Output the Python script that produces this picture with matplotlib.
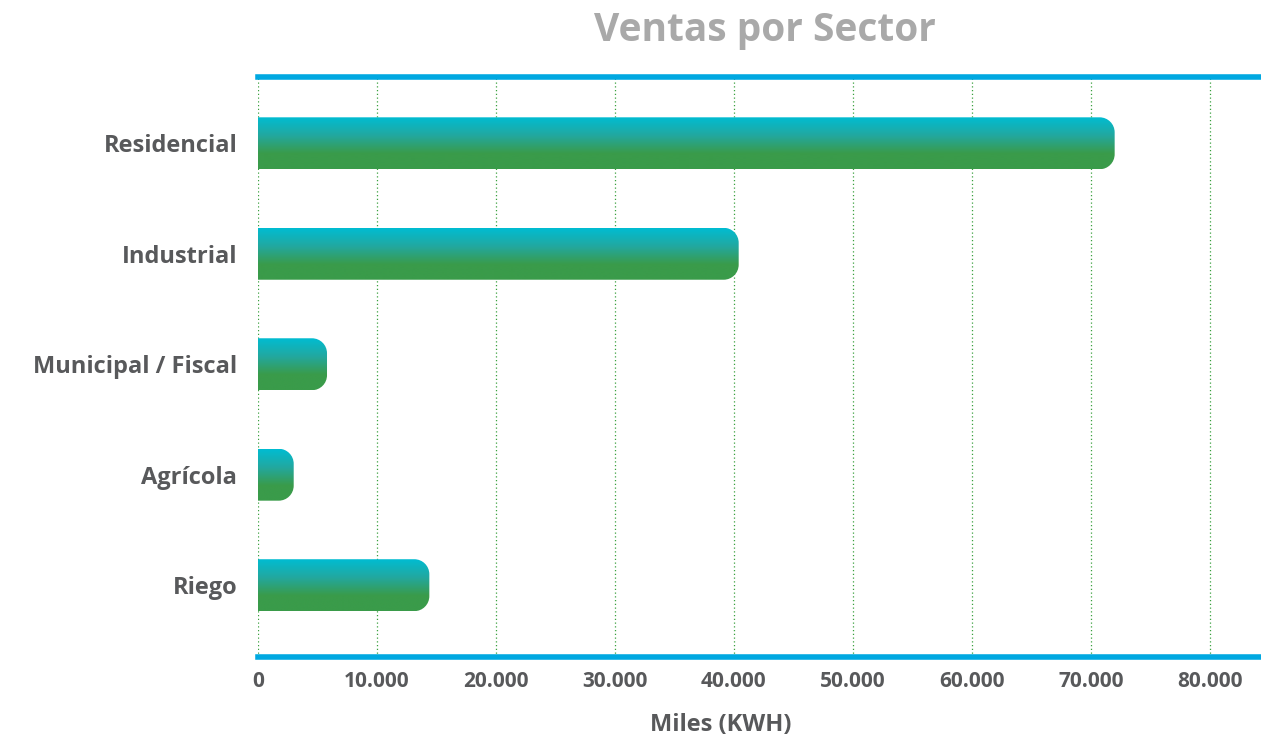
import numpy as np
import matplotlib
matplotlib.use("Agg")
import matplotlib.pyplot as plt
from matplotlib.path import Path
from matplotlib.patches import PathPatch
from matplotlib.colors import LinearSegmentedColormap

categories = ["Residencial", "Industrial", "Municipal / Fiscal", "Agrícola", "Riego"]
values = [72000, 40400, 5800, 3000, 14400]
xticks = [0, 10000, 20000, 30000, 40000, 50000, 60000, 70000, 80000]
xticklabels = ["0", "10.000", "20.000", "30.000", "40.000", "50.000", "60.000", "70.000", "80.000"]

W, H = 1261, 739
fig = plt.figure(figsize=(W / 100, H / 100), dpi=100)
ax = fig.add_axes([258 / W, 1 - 657 / H, (1261 - 258) / W, (657 - 77) / H])

xmin, xmax = 0, 84300
ymin, ymax = 4.65, -0.6
ax.set_xlim(xmin, xmax)
ax.set_ylim(ymin, ymax)

font = "Open Sans"
gray = "#58595b"

# pixel scales
ax_w_px = 1261 - 258
ax_h_px = 657 - 77
px_per_x = ax_w_px / (xmax - xmin)
px_per_y = ax_h_px / abs(ymin - ymax)

bar_h = 0.47
r_px = 15
rx = r_px / px_per_x
ry = r_px / px_per_y
k = 0.5523

cmap = LinearSegmentedColormap.from_list(
    "g", [(0.0, "#00bcd2"), (0.35, "#22a8a0"), (0.7, "#3a9b4a"), (1.0, "#3a9b4a")])
grad = np.linspace(0, 1, 256).reshape(-1, 1)

for i, v in enumerate(values):
    top = i - bar_h / 2
    bot = i + bar_h / 2
    x0 = 0
    x1 = v
    rxx = min(rx, v / 2)
    verts = [
        (x0, top),
        (x1 - rxx, top),
        (x1 - rxx + k * rxx, top), (x1, top + ry - k * ry), (x1, top + ry),
        (x1, bot - ry),
        (x1, bot - ry + k * ry), (x1 - rxx + k * rxx, bot), (x1 - rxx, bot),
        (x0, bot),
        (x0, top),
    ]
    codes = [Path.MOVETO, Path.LINETO,
             Path.CURVE4, Path.CURVE4, Path.CURVE4,
             Path.LINETO,
             Path.CURVE4, Path.CURVE4, Path.CURVE4,
             Path.LINETO, Path.CLOSEPOLY]
    path = Path(verts, codes)
    patch = PathPatch(path, facecolor="none", edgecolor="none")
    ax.add_patch(patch)
    im = ax.imshow(grad, cmap=cmap, aspect="auto",
                   extent=[x0, x1, bot, top], zorder=3, interpolation="bilinear")
    im.set_clip_path(patch)

ax.set_xlim(xmin, xmax)
ax.set_ylim(ymin, ymax)

ax.set_xticks(xticks)
ax.set_xticklabels(xticklabels)
ax.set_yticks(range(len(categories)))
ax.set_yticklabels(categories)
ax.tick_params(axis="both", length=0, colors=gray)
for lab in ax.get_xticklabels():
    lab.set_fontfamily(font)
    lab.set_fontweight("bold")
    lab.set_fontsize(15)
for lab in ax.get_yticklabels():
    lab.set_fontfamily(font)
    lab.set_fontweight("bold")
    lab.set_fontsize(17)
ax.tick_params(axis="y", pad=15)
ax.tick_params(axis="x", pad=10)

ax.grid(axis="x", color="#3aa03f", linestyle=(0, (1, 2)), linewidth=0.9, zorder=1)
ax.set_axisbelow(True)

for s in ["left", "right"]:
    ax.spines[s].set_visible(False)
for s in ["top", "bottom"]:
    ax.spines[s].set_color("#00a8e1")
    ax.spines[s].set_linewidth(4)

fig.text(765 / W, 1 - 31 / H, "Ventas por Sector", ha="center", va="center",
         fontsize=28, fontweight="bold", color="#a9a9a9", fontfamily=font)
fig.text(721 / W, 1 - 725 / H, "Miles (KWH)", ha="center", va="center",
         fontsize=17, fontweight="bold", color=gray, fontfamily=font)

fig.savefig("out.png", dpi=100)
